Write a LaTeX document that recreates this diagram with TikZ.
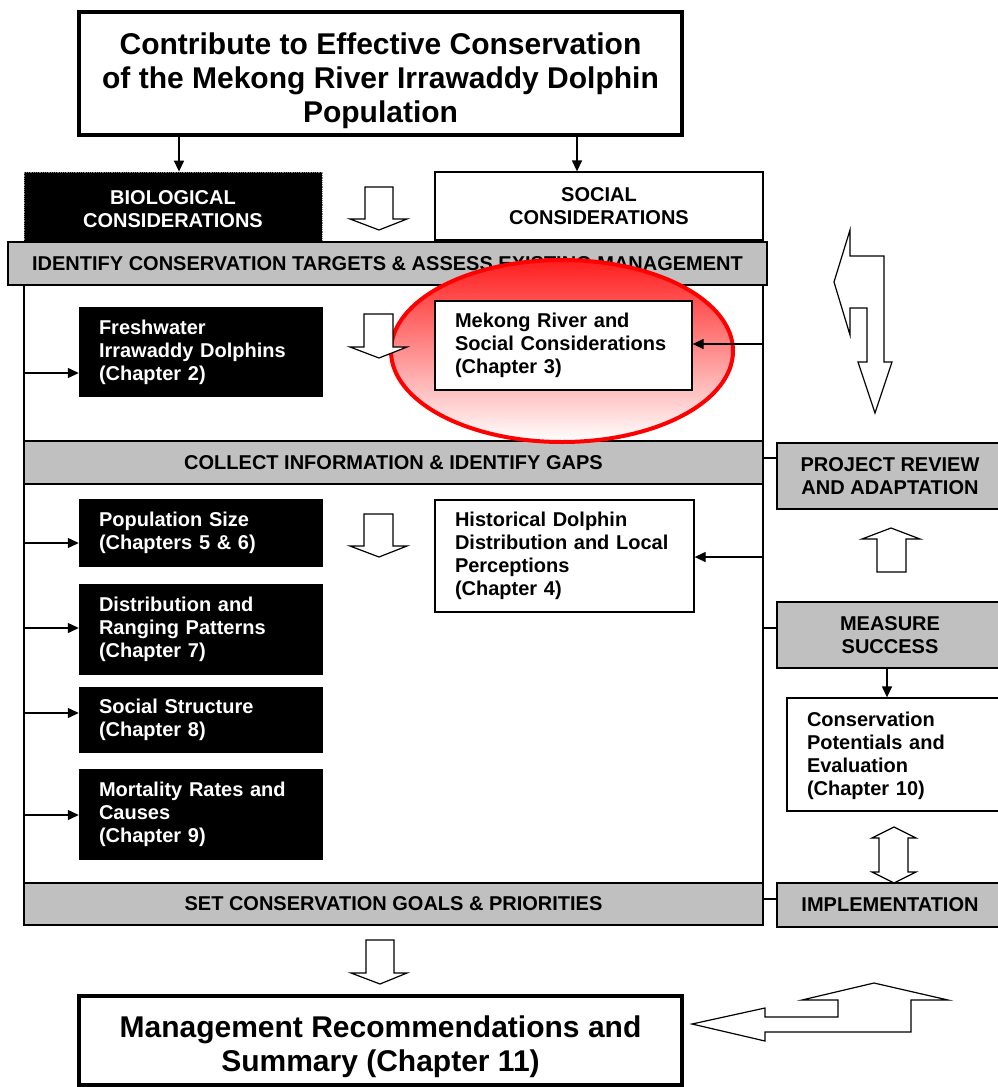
\documentclass[tikz,border=0pt]{standalone}
\usepackage{fontspec}
\setmainfont{Liberation Sans}
\usetikzlibrary{arrows.meta,shapes.geometric}
\definecolor{barGray}{RGB}{192,192,192}
\definecolor{hlred}{RGB}{255,30,30}
\newcommand{\fsz}[2]{\fontsize{#1}{#2}\selectfont\bfseries}
\begin{document}
\begin{tikzpicture}[x=1pt,y=-1pt,
  every node/.style={font=\fsz{20}{23}},
  gbar/.style={draw, fill=barGray, line width=1.4pt, inner sep=0pt, align=center},
  bbox/.style={fill=black, text=white, align=left, inner xsep=20pt, inner ysep=0pt, text width=204pt, minimum width=244pt},
  wbox/.style={draw, fill=white, line width=1.3pt, align=left, inner xsep=20pt, inner ysep=0pt},
  cbox/.style={draw, fill=white, line width=1.3pt, align=center, inner sep=0pt},
  thickbox/.style={draw, fill=white, line width=4pt, align=center, inner sep=0pt, font=\fsz{30}{34}},
  conn/.style={line width=1.3pt, -{Triangle[length=11pt,width=10pt]}},
  plainline/.style={line width=1.3pt},
  blk/.style={draw, fill=white, line width=1.2pt, line join=miter}]
\useasboundingbox (0,0) rectangle (997,1087);

% top
\node[thickbox, minimum width=603pt, minimum height=123pt] (t) at (380.5,73.5)
  {\rule{0pt}{36pt}Contribute to Effective Conservation\\of the Mekong River Irrawaddy Dolphin\\Population};
\node[fill=black, draw=gray, densely dotted, line width=0.8pt, text=white, align=center,
  inner sep=0pt, minimum width=298pt, minimum height=71pt] (bio) at (173,207.5)
  {\rule{0pt}{17pt}BIOLOGICAL\\CONSIDERATIONS};
\node[cbox, minimum width=328pt, minimum height=68pt] (soc) at (599,206)
  {SOCIAL\\CONSIDERATIONS};
\coordinate (xb) at (179,0);
\coordinate (xs) at (577,0);
\draw[conn] (t.south -| xb) -- (bio.north -| xb);
\draw[conn] (t.south -| xs) -- (soc.north -| xs);

% frame
\node[draw, line width=1.3pt, inner sep=0pt, minimum width=739pt, minimum height=598pt] (frame) at (393.5,584) {};

% bars
\node[gbar, minimum width=759pt, minimum height=43pt] (b1) at (387.5,263.5)
  {IDENTIFY CONSERVATION TARGETS \& ASSESS EXISTING MANAGEMENT};
\node[gbar, minimum width=739pt, minimum height=43pt] (b2) at (393.5,462.5)
  {COLLECT INFORMATION \& IDENTIFY GAPS};
\node[gbar, minimum width=739pt, minimum height=42pt] (b3) at (393.5,904)
  {SET CONSERVATION GOALS \& PRIORITIES};

% highlight ellipse
\node[ellipse, draw=red, line width=4pt, top color=hlred, bottom color=white,
  minimum width=342pt, minimum height=182pt, inner sep=0pt] (hl) at (562,351) {};

% black boxes
\node[bbox, minimum height=90pt] (fw) at (201,352) {Freshwater\\Irrawaddy Dolphins\\(Chapter 2)};
\node[bbox, minimum height=68pt] (pop) at (201,533) {Population Size\\(Chapters 5 \& 6)};
\node[bbox, minimum height=91pt] (dist) at (201,629.5) {Distribution and\\Ranging Patterns\\(Chapter 7)};
\node[bbox, minimum height=66pt] (ss) at (201,720) {Social Structure\\(Chapter 8)};
\node[bbox, minimum height=91pt] (mort) at (201,814.5) {Mortality Rates and\\Causes\\(Chapter 9)};

% white boxes
\node[wbox, text width=217pt, minimum width=257pt, minimum height=89pt] (mek) at (563.5,345.5)
  {Mekong River and\\Social Considerations\\(Chapter 3)};
\node[wbox, text width=219pt, minimum width=259pt, minimum height=112pt] (hist) at (564.5,556)
  {Historical Dolphin\\Distribution and Local\\Perceptions\\(Chapter 4)};

% left arrows
\coordinate (l1) at (24,373);
\coordinate (l2) at (24,543);
\coordinate (l3) at (24,628);
\coordinate (l4) at (24,713);
\coordinate (l5) at (24,815);
\draw[conn] (l1) -- (l1 -| fw.west);
\draw[conn] (l2) -- (l2 -| pop.west);
\draw[conn] (l3) -- (l3 -| dist.west);
\draw[conn] (l4) -- (l4 -| ss.west);
\draw[conn] (l5) -- (l5 -| mort.west);

% right column
\node[gbar, minimum width=226pt, minimum height=66pt] (prj) at (890,476) {PROJECT REVIEW\\AND ADAPTATION};
\node[gbar, minimum width=226pt, minimum height=66pt] (meas) at (890,635) {MEASURE\\SUCCESS};
\node[wbox, text width=176pt, minimum width=216pt, minimum height=113pt] (cons) at (895,754.5)
  {\rule{0pt}{17pt}Conservation\\Potentials and\\Evaluation\\(Chapter 10)};
\node[gbar, minimum width=226pt, minimum height=44pt] (impl) at (890,905) {IMPLEMENTATION};

\coordinate (r1) at (763,344);
\coordinate (r2) at (763,557);
\coordinate (r3) at (763,458);
\coordinate (r4) at (763,628);
\coordinate (r5) at (763,899);
\draw[conn] (r1) -- (r1 -| mek.east);
\draw[conn] (r2) -- (r2 -| hist.east);
\draw[plainline] (r3) -- (r3 -| prj.west);
\draw[plainline] (r4) -- (r4 -| meas.west);
\draw[plainline] (r5) -- (r5 -| impl.west);
\coordinate (m1) at (887,0);
\draw[conn] (meas.south -| m1) -- (cons.north -| m1);

% bottom
\node[thickbox, minimum width=603pt, minimum height=89pt] (mg) at (380.5,1040.5)
  {\rule{0pt}{34pt}Management Recommendations and\\Summary (Chapter 11)};

% block arrows
\draw[blk] (365,187) -- (393,187) -- (393,219) -- (407,219) -- (379,230) -- (350,219) -- (365,219) -- cycle;
\draw[blk] (364,314) -- (393,314) -- (393,347) -- (407,347) -- (379,358) -- (350,347) -- (364,347) -- cycle;
\draw[blk] (364,514) -- (393,514) -- (393,546) -- (407,546) -- (379,557) -- (350,546) -- (364,546) -- cycle;
\draw[blk] (366,940) -- (394,940) -- (394,973) -- (407,973) -- (380,984) -- (351,973) -- (366,973) -- cycle;
\draw[blk] (891,528) -- (920,539) -- (906,539) -- (906,572) -- (877,572) -- (877,539) -- (862,539) -- cycle;
\draw[blk] (894,827) -- (916,838) -- (908,838) -- (908,872) -- (916,872) -- (894,883) -- (872,872) -- (879,872) -- (879,838) -- (872,838) -- cycle;
\draw[blk] (834,282) -- (850,230) -- (850,256) -- (884,256) -- (884,362) -- (892,362) -- (875,413) -- (858,362) -- (867,362) -- (867,308) -- (850,308) -- (850,335) -- cycle;
\draw[blk] (692,1024) -- (765,1008) -- (765,1017) -- (838,1017) -- (838,1000) -- (802,1000) -- (874,983) -- (948,1000) -- (911,1000) -- (911,1032) -- (765,1032) -- (765,1041) -- cycle;
\end{tikzpicture}
\end{document}
